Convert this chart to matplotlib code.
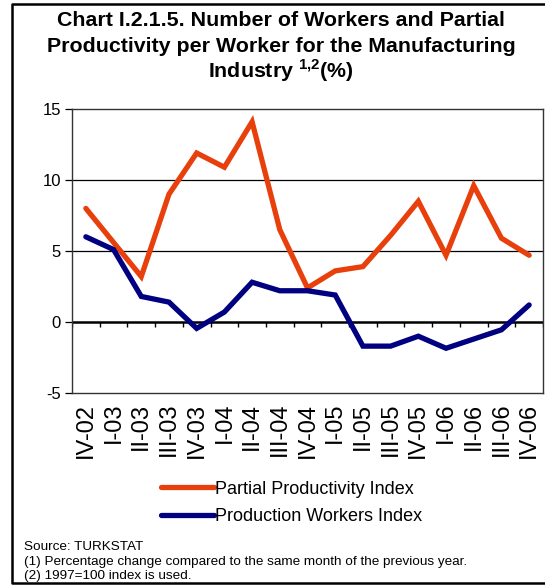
import numpy as np
import matplotlib
matplotlib.use("Agg")
import matplotlib.pyplot as plt
from matplotlib.lines import Line2D

plt.rcParams['font.family'] = ['Liberation Sans', 'DejaVu Sans']
plt.rcParams['mathtext.fontset'] = 'custom'
plt.rcParams['mathtext.rm'] = 'Liberation Sans'
plt.rcParams['mathtext.bf'] = 'Liberation Sans:bold'

# quarters
trimestres = ["IV-02", "I-03", "II-03", "III-03", "IV-03", "I-04", "II-04", "III-04",
              "IV-04", "I-05", "II-05", "III-05", "IV-05", "I-06", "II-06", "III-06", "IV-06"]

# annual % change
productividad = [8.0, 5.6, 3.2, 9.0, 11.9, 10.9, 14.1, 6.5,
                 2.4, 3.6, 3.9, 6.1, 8.5, 4.7, 9.6, 5.9, 4.7]
trabajadores = [6.0, 5.1, 1.8, 1.4, -0.45, 0.7, 2.8, 2.2,
                2.2, 1.9, -1.7, -1.7, -1.0, -1.85, -1.2, -0.55, 1.2]

etiquetas_y = [-5, 0, 5, 10, 15]

naranja = "#E8400C"
azul = "#000080"

W, H = 545, 586
fig = plt.figure(figsize=(W / 100, H / 100), dpi=100)

# marco exterior (lado derecho queda fuera de la imagen)
marco = fig.add_axes([0, 0, 1, 1])
marco.set_xlim(0, W)
marco.set_ylim(H, 0)
marco.axis("off")
marco.plot([W + 5, 12, 12, W + 5], [4, 4, 583, 583], color="black", lw=1.8,
           clip_on=False)

ax = fig.add_axes([72 / W, (H - 393) / H, (543 - 72) / W, (393 - 109) / H])
x = np.arange(len(trimestres))

for v in etiquetas_y[2:4]:
    ax.axhline(v, color="black", lw=0.9, zorder=1)
ax.axhline(0, color="black", lw=1.8, zorder=2)
# marcas sobre la linea del cero
bordes = np.arange(len(trimestres) + 1) - 0.5
ax.vlines(bordes, -0.38, 0, color="black", lw=1.0, zorder=2)

ax.plot(x, productividad, color=naranja, lw=3.8, solid_capstyle="round",
        solid_joinstyle="miter", zorder=3)
ax.plot(x, trabajadores, color=azul, lw=3.8, solid_capstyle="round",
        solid_joinstyle="miter", zorder=3)

ax.set_xlim(-0.5, len(trimestres) - 0.5)
ax.set_ylim(-5, 15)
ax.set_yticks(etiquetas_y)
ax.set_yticklabels([str(v) for v in etiquetas_y], fontsize=12)
ax.tick_params(axis="y", direction="out", length=5, width=0.9, pad=3)
ax.set_xticks(x)
ax.set_xticklabels(trimestres, rotation=90, fontsize=17)
ax.tick_params(axis="x", length=0, pad=7)
for s in ax.spines.values():
    s.set_color("#333333")
    s.set_linewidth(1.0)

# titulo en tres lineas
titulo = ["Chart I.2.1.5. Number of Workers and Partial",
          "Productivity per Worker for the Manufacturing",
          r"Industry $^{\mathbf{1{,}2}}$(%)"]
for i, linea in enumerate(titulo):
    fig.text(281 / W, 1 - (21 + 25 * i) / H, linea, ha="center", va="center",
             fontsize=15.4, fontweight="bold")

leyenda = [Line2D([], [], color=naranja, lw=3.8, solid_capstyle="round"),
           Line2D([], [], color=azul, lw=3.8, solid_capstyle="round")]
fig.legend(leyenda, ["Partial Productivity Index", "Production Workers Index"],
           loc="center left", bbox_to_anchor=(145 / W, 1 - 503 / H), frameon=False,
           fontsize=13, handlelength=2.9, handletextpad=0.1, labelspacing=0.6)

fig.text(24 / W, 1 - 547 / H, "Source: TURKSTAT", fontsize=9.7, va="center")
fig.text(24 / W, 1 - 562 / H,
         "(1) Percentage change compared to the same month of the previous year.",
         fontsize=9.7, va="center")
fig.text(24 / W, 1 - 576 / H, "(2) 1997=100 index is used.", fontsize=9.7, va="center")

fig.savefig("out.png", dpi=100)
